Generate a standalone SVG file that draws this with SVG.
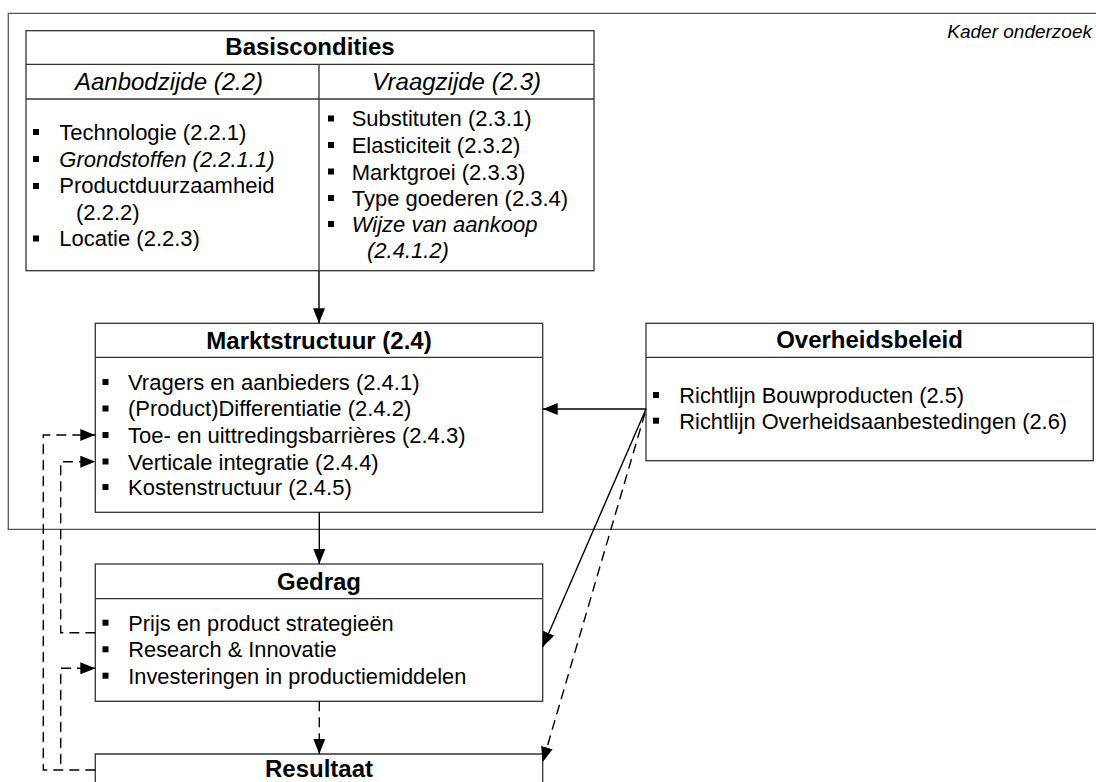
<svg xmlns="http://www.w3.org/2000/svg" width="1096" height="782" viewBox="0 0 1096 782">
<style>
text{font-family:"Liberation Sans",Arial,sans-serif;fill:#000}
.t{font-weight:bold;font-size:24px;text-anchor:middle}
.h{font-style:italic;font-size:24px;text-anchor:middle}
.b24{font-size:22px}
.b23{font-size:22px}
.b22{font-size:21.8px}
.it{font-style:italic}
.box{fill:#fff;stroke:#333;stroke-width:1.3}
.ln{stroke:#333;stroke-width:1.3;fill:none}
.bu{fill:#000}
.c{stroke:#000;stroke-width:1.4;fill:none}
.d{stroke:#000;stroke-width:1.4;fill:none;stroke-dasharray:10 6}
</style>
<defs>
<marker id="ah" markerUnits="userSpaceOnUse" markerWidth="15" markerHeight="12" refX="15" refY="6" orient="auto">
<path d="M0,0 L15,6 L0,12 z" fill="#000"/>
</marker>
</defs>
<rect width="1096" height="782" fill="#fff"/>
<g id="kader">
<path d="M1096,13.3 H8.3 V529.3 H1096" fill="none" stroke="#555" stroke-width="1.3"/>
<text x="1092" y="37.5" font-size="19" font-style="italic" text-anchor="end">Kader onderzoek</text>
</g>
<g id="basiscondities">
<rect class="box" x="26" y="30.7" width="568" height="240"/>
<path class="ln" d="M26,64.3 H594 M26,99 H594 M319,64.3 V270.7"/>
<text class="t" x="310" y="55.3">Basiscondities</text>
<text class="h" x="169" y="90.3">Aanbodzijde (2.2)</text>
<text class="h" x="456.5" y="90.3">Vraagzijde (2.3)</text>
<rect class="bu" x="33" y="129" width="6" height="6"/>
<rect class="bu" x="33" y="156" width="6" height="6"/>
<rect class="bu" x="33" y="183" width="6" height="6"/>
<rect class="bu" x="33" y="235.5" width="6" height="6"/>
<text class="b24" x="59.3" y="139.7">Technologie (2.2.1)</text>
<text class="b24 it" x="59.3" y="166.5">Grondstoffen (2.2.1.1)</text>
<text class="b24" x="59.3" y="193.3">Productduurzaamheid</text>
<text class="b24" x="76" y="219.8">(2.2.2)</text>
<text class="b24" x="59.3" y="246.2">Locatie (2.2.3)</text>
<rect class="bu" x="328" y="115.5" width="6" height="6"/>
<rect class="bu" x="328" y="142" width="6" height="6"/>
<rect class="bu" x="328" y="168.5" width="6" height="6"/>
<rect class="bu" x="328" y="195" width="6" height="6"/>
<rect class="bu" x="328" y="221" width="6" height="6"/>
<text class="b24" x="351.7" y="126.4">Substituten (2.3.1)</text>
<text class="b24" x="351.7" y="153.1">Elasticiteit (2.3.2)</text>
<text class="b24" x="351.7" y="179.6">Marktgroei (2.3.3)</text>
<text class="b24" x="351.7" y="205.9">Type goederen (2.3.4)</text>
<text class="b24 it" x="351.7" y="232">Wijze van aankoop</text>
<text class="b24 it" x="367" y="258.2">(2.4.1.2)</text>
</g>
<g id="marktstructuur">
<rect class="box" x="95.3" y="323.3" width="447.4" height="189"/>
<path class="ln" d="M95.3,357.3 H542.7"/>
<text class="t" x="319" y="349.3">Marktstructuur (2.4)</text>
<rect class="bu" x="102.5" y="379" width="6" height="6"/>
<rect class="bu" x="102.5" y="405.5" width="6" height="6"/>
<rect class="bu" x="102.5" y="432" width="6" height="6"/>
<rect class="bu" x="102.5" y="458.5" width="6" height="6"/>
<rect class="bu" x="102.5" y="484" width="6" height="6"/>
<text class="b23" x="128" y="389.6">Vragers en aanbieders (2.4.1)</text>
<text class="b23" x="128" y="416">(Product)Differentiatie (2.4.2)</text>
<text class="b23" x="128" y="442.8">Toe- en uittredingsbarrières (2.4.3)</text>
<text class="b23" x="128" y="469.5">Verticale integratie (2.4.4)</text>
<text class="b23" x="128" y="494.5">Kostenstructuur (2.4.5)</text>
</g>
<g id="overheidsbeleid">
<rect class="box" x="646" y="323.3" width="447.3" height="137.4"/>
<path class="ln" d="M646,357.3 H1093.3"/>
<text class="t" x="869.5" y="347.6">Overheidsbeleid</text>
<rect class="bu" x="653" y="392" width="6" height="6"/>
<rect class="bu" x="653" y="417.7" width="6" height="6"/>
<text class="b22" x="679.3" y="403">Richtlijn Bouwproducten (2.5)</text>
<text class="b22" x="679.3" y="428.6">Richtlijn Overheidsaanbestedingen (2.6)</text>
</g>
<g id="gedrag">
<rect class="box" x="95.3" y="564" width="447.4" height="137.3"/>
<path class="ln" d="M95.3,598.7 H542.7"/>
<text class="t" x="319" y="590.3">Gedrag</text>
<rect class="bu" x="102.5" y="619.7" width="6" height="6"/>
<rect class="bu" x="102.5" y="646.3" width="6" height="6"/>
<rect class="bu" x="102.5" y="672.7" width="6" height="6"/>
<text class="b22" x="128.3" y="630.6">Prijs en product strategieën</text>
<text class="b22" x="128.3" y="657.2">Research &amp; Innovatie</text>
<text class="b22" x="128.3" y="683.6">Investeringen in productiemiddelen</text>
</g>
<g id="resultaat">
<path class="ln" d="M95.3,790 V754 H542.7 V790" fill="#fff"/>
<text class="t" x="319" y="776.6">Resultaat</text>
</g>
<g id="connectors">
<path class="c" d="M319,270.7 V323.3" marker-end="url(#ah)"/>
<path class="c" d="M319.3,512.3 V564" marker-end="url(#ah)"/>
<path class="d" d="M319.3,701.3 V754" marker-end="url(#ah)"/>
<path class="c" d="M646,409 H542.7" marker-end="url(#ah)"/>
<path class="c" d="M646,409 L542.7,647" marker-end="url(#ah)"/>
<path class="d" d="M645,413 L542.7,762" marker-end="url(#ah)"/>
<path class="d" d="M95.3,770 H43.3 V435 H95.3" marker-end="url(#ah)"/>
<path class="d" d="M95.3,632.7 H60.7 V461.7 H95.3" marker-end="url(#ah)"/>
<path class="d" d="M60.7,764 V668.3 H95.3" marker-end="url(#ah)"/>
</g>
</svg>
